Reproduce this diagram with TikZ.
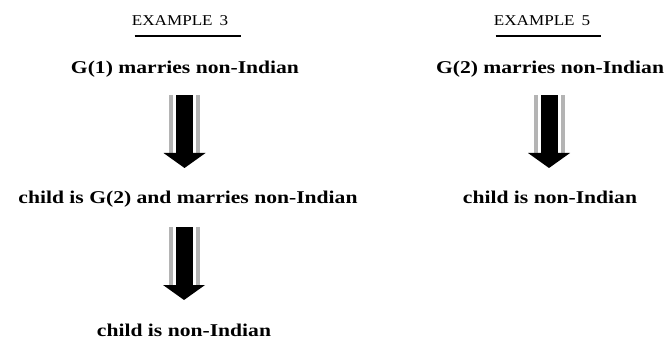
\documentclass[tikz,border=0pt]{standalone}
\usepackage{fontspec}
\usepackage{graphicx}
\setmainfont{Liberation Serif}
\definecolor{stripegray}{HTML}{B4B4B4}
\tikzset{
  x=0.5pt, y=-0.5pt,
  heading/.style={anchor=base, inner sep=0pt, font=\fontsize{7.5pt}{9pt}\selectfont},
  stmt/.style={anchor=base, inner sep=0pt, font=\fontsize{9pt}{11pt}\selectfont\bfseries},
  uline/.style={line width=1pt, black},
  % thick downward arrow with a grey stripe on each side; origin at the tip
  fatarrow/.pic={
    \fill[stripegray] (-15.5,-73) rectangle (-11.5,-15);
    \fill[stripegray] (11.5,-73) rectangle (15.5,-15);
    \fill[black] (-8.5,-73) rectangle (8.5,-14);
    \fill[black] (-21,-15) -- (21,-15) -- (0,0) -- cycle;
  }
}
\newcommand\widehead[1]{\scalebox{1.14}[1]{#1}}
\newcommand\widetext[1]{\scalebox{1.2}[1]{#1}}
\begin{document}
\begin{tikzpicture}
\useasboundingbox (0,0) rectangle (667,341);

% left column
\node[heading] (ex3) at (180,26) {\widehead{EXAMPLE\hspace{3pt}3}};
\draw[uline] ([shift={(3,10)}]ex3.base west) -- ([shift={(13,10)}]ex3.base east);
\node[stmt] (t1) at (185,74) {\widetext{G(1) marries non-Indian}};
\node[stmt] (t2) at (188,204) {\widetext{child is G(2) and marries non-Indian}};
\node[stmt] (t3) at (184,336) {\widetext{child is non-Indian}};
\coordinate (tip1) at (184.5,168);
\coordinate (tip2) at (184,300);
\pic at (tip1) {fatarrow};
\pic at (tip2) {fatarrow};

% right column
\node[heading] (ex5) at (542,26) {\widehead{EXAMPLE\hspace{3pt}5}};
\draw[uline] ([shift={(2,10)}]ex5.base west) -- ([shift={(11,10)}]ex5.base east);
\node[stmt] (t5) at (550,74) {\widetext{G(2) marries non-Indian}};
\node[stmt] (t6) at (550,204) {\widetext{child is non-Indian}};
\coordinate (tip3) at (549,168);
\pic at (tip3) {fatarrow};
\end{tikzpicture}
\end{document}
